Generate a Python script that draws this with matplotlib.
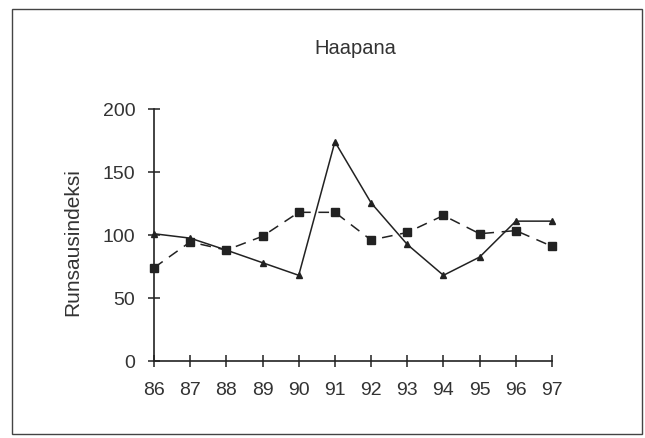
import matplotlib.pyplot as plt
from matplotlib.patches import Rectangle

plt.rcParams['font.family'] = ['Liberation Sans', 'DejaVu Sans']

years = ['86', '87', '88', '89', '90', '91', '92', '93', '94', '95', '96', '97']
solid_vals = [101, 97.5, 88, 78, 68, 174, 125.5, 92.5, 68, 82.5, 111, 111]
dashed_vals = [74, 94.5, 88, 99, 118, 118, 96, 102, 115.5, 101, 103.5, 91]

fig = plt.figure(figsize=(6.45, 4.39), dpi=100)
ax = fig.add_axes([154 / 645, 1 - 362 / 439, 398 / 645, 252 / 439])

x = range(len(years))
ax.plot(x, solid_vals, color='#222222', lw=1.1, marker='^', ms=4.5, clip_on=False)
ax.plot(x, dashed_vals, color='#222222', lw=1.1, ls=(0, (7, 5)), marker='s', ms=5.5,
        clip_on=False)

ax.set_xlim(0, len(years) - 1)
ax.set_ylim(0, 200)
ax.set_xticks(list(x))
ax.set_xticklabels(years)
ax.set_yticks([0, 50, 100, 150, 200])

for side in ['top', 'right']:
    ax.spines[side].set_visible(False)
for side in ['left', 'bottom']:
    ax.spines[side].set_color('#222222')
    ax.spines[side].set_linewidth(1.2)
ax.tick_params(direction='inout', length=8, width=1.1, colors='#222222',
               labelsize=14, labelcolor='#333333')
ax.tick_params(axis='x', pad=10.5)
ax.tick_params(axis='y', pad=9.5)

fig.text(73 / 645, 1 - 242 / 439, 'Runsausindeksi', rotation=90, ha='center',
         va='center', fontsize=15, color='#333333')
fig.text(355 / 645, 1 - 48 / 439, 'Haapana', ha='center', va='center',
         fontsize=14.5, color='#333333')

fig.patches.append(Rectangle((12 / 645, 1 - 435 / 439), 630 / 645, 425 / 439,
                             transform=fig.transFigure, fill=False,
                             edgecolor='#444444', lw=1.0))

fig.savefig('out.png', dpi=100)
